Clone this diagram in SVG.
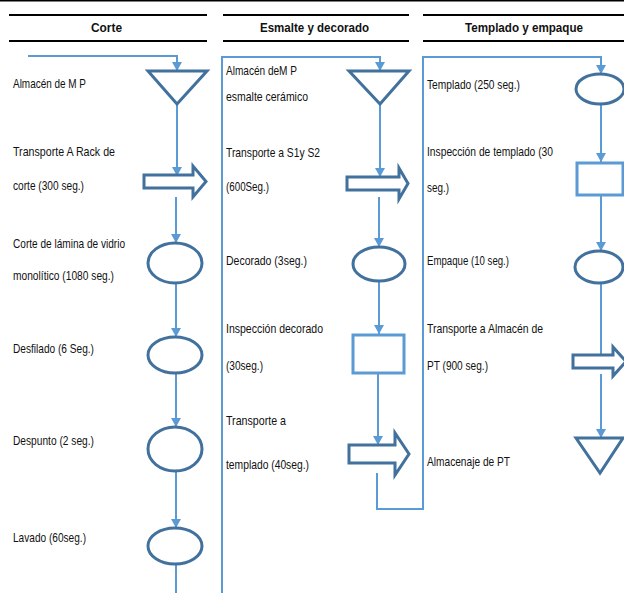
<svg xmlns="http://www.w3.org/2000/svg" width="624" height="593" viewBox="0 0 624 593">
<style>
.hdr{font-family:"Liberation Sans",Arial,sans-serif;font-weight:bold;font-size:13px;fill:#111;}
.lbl{font-family:"Liberation Sans",Arial,sans-serif;font-size:13.5px;fill:#111;}
.rule{stroke:#000;stroke-width:2;fill:none;}
.shape{stroke:#41719C;stroke-width:3;fill:#fff;}
.box{stroke:#5B9BD5;stroke-width:3;fill:#fff;}
.conn{stroke:#5B9BD5;stroke-width:2;fill:none;}
</style>
<defs>
<marker id="ah" markerUnits="userSpaceOnUse" markerWidth="9" markerHeight="10" refX="9" refY="5" orient="auto">
<path d="M0,0 L9,5 L0,10 z" fill="#5B9BD5"/>
</marker>
</defs>
<rect width="624" height="593" fill="#fff"/>
<g id="headers">
<line class="rule" x1="0" y1="0.5" x2="624" y2="0.5" stroke-width="1"/>
<line class="rule" x1="9" y1="15" x2="207" y2="15"/>
<line class="rule" x1="9" y1="41" x2="207" y2="41"/>
<line class="rule" x1="223" y1="15" x2="409" y2="15"/>
<line class="rule" x1="223" y1="41" x2="409" y2="41"/>
<line class="rule" x1="423" y1="15" x2="624" y2="15"/>
<line class="rule" x1="423" y1="41" x2="624" y2="41"/>
<text class="hdr" x="91" y="32" textLength="31" lengthAdjust="spacingAndGlyphs">Corte</text>
<text class="hdr" x="260" y="32" textLength="109" lengthAdjust="spacingAndGlyphs">Esmalte y decorado</text>
<text class="hdr" x="465" y="32" textLength="118" lengthAdjust="spacingAndGlyphs">Templado y empaque</text>
</g>
<g id="connectors">
<path class="conn" d="M28,56 H177 V71" marker-end="url(#ah)" stroke-width="2.5"/>
<path class="conn" d="M177,104 V176" marker-end="url(#ah)"/>
<path class="conn" d="M176,197 V243" marker-end="url(#ah)"/>
<path class="conn" d="M176,283 V337" marker-end="url(#ah)"/>
<path class="conn" d="M176,373 V427" marker-end="url(#ah)"/>
<path class="conn" d="M176,471 V528" marker-end="url(#ah)"/>
<path class="conn" d="M176,564 V593"/>
<path class="conn" d="M222,593 V57 H380 V71" marker-end="url(#ah)" stroke-width="3"/>
<path class="conn" d="M380,104 V177" marker-end="url(#ah)"/>
<path class="conn" d="M379,197 V247" marker-end="url(#ah)"/>
<path class="conn" d="M379,281 V334" marker-end="url(#ah)"/>
<path class="conn" d="M378,373 V445" marker-end="url(#ah)"/>
<path class="conn" d="M377,473 V509 H423 V57 H601 V74" marker-end="url(#ah)" stroke-width="3"/>
<path class="conn" d="M601,105 V162" marker-end="url(#ah)"/>
<path class="conn" d="M601,195 V251" marker-end="url(#ah)"/>
<path class="conn" d="M601,283 V365" marker-end="url(#ah)"/>
<path class="conn" d="M601,374 V438" marker-end="url(#ah)"/>
</g>
<g id="almacen-mp">
<polygon class="shape" points="148,71 207,71 177,104"/>
<text class="lbl" x="13" y="88" textLength="73" lengthAdjust="spacingAndGlyphs">Almacén de M P</text>
</g>
<g id="transporte-rack">
<polygon class="shape" points="144,175 193,175 193,166 206,181.5 193,197 193,188 144,188"/>
<text class="lbl" x="13" y="156" textLength="102" lengthAdjust="spacingAndGlyphs">Transporte A Rack de</text>
<text class="lbl" x="13" y="190" textLength="71" lengthAdjust="spacingAndGlyphs">corte (300 seg.)</text>
</g>
<g id="corte-lamina">
<ellipse class="shape" cx="175" cy="263" rx="27" ry="20"/>
<text class="lbl" x="13" y="248" textLength="112" lengthAdjust="spacingAndGlyphs">Corte de lámina de vidrio</text>
<text class="lbl" x="13" y="280" textLength="101" lengthAdjust="spacingAndGlyphs">monolítico (1080 seg.)</text>
</g>
<g id="desfilado">
<ellipse class="shape" cx="175" cy="355" rx="27" ry="18"/>
<text class="lbl" x="13" y="353" textLength="81" lengthAdjust="spacingAndGlyphs">Desfilado (6 Seg.)</text>
</g>
<g id="despunto">
<ellipse class="shape" cx="175" cy="449" rx="27" ry="22"/>
<text class="lbl" x="13" y="445" textLength="81" lengthAdjust="spacingAndGlyphs">Despunto (2 seg.)</text>
</g>
<g id="lavado">
<ellipse class="shape" cx="175" cy="546" rx="27" ry="18"/>
<text class="lbl" x="13" y="542" textLength="73" lengthAdjust="spacingAndGlyphs">Lavado (60seg.)</text>
</g>
<g id="almacen-esmalte">
<polygon class="shape" points="349,71 409,71 380,104"/>
<text class="lbl" x="226" y="75" textLength="71" lengthAdjust="spacingAndGlyphs">Almacén deM P</text>
<text class="lbl" x="226" y="101" textLength="82" lengthAdjust="spacingAndGlyphs">esmalte cerámico</text>
</g>
<g id="transporte-s1s2">
<polygon class="shape" points="347,177 399,177 399,168 408,183.5 399,199 399,190 347,190"/>
<text class="lbl" x="226" y="157" textLength="94" lengthAdjust="spacingAndGlyphs">Transporte a S1y S2</text>
<text class="lbl" x="226" y="191" textLength="43" lengthAdjust="spacingAndGlyphs">(600Seg.)</text>
</g>
<g id="decorado">
<ellipse class="shape" cx="379" cy="264" rx="26" ry="17"/>
<text class="lbl" x="226" y="265" textLength="81" lengthAdjust="spacingAndGlyphs">Decorado (3seg.)</text>
</g>
<g id="inspeccion-decorado">
<rect class="box" x="353" y="335" width="51" height="38"/>
<text class="lbl" x="226" y="333" textLength="97" lengthAdjust="spacingAndGlyphs">Inspección decorado</text>
<text class="lbl" x="226" y="370" textLength="37" lengthAdjust="spacingAndGlyphs">(30seg.)</text>
</g>
<g id="transporte-templado">
<polygon class="shape" points="349,445 395,445 395,433 409,454 395,475 395,463 349,463"/>
<text class="lbl" x="226" y="425" textLength="60" lengthAdjust="spacingAndGlyphs">Transporte a</text>
<text class="lbl" x="226" y="469" textLength="83" lengthAdjust="spacingAndGlyphs">templado (40seg.)</text>
</g>
<g id="templado">
<ellipse class="shape" cx="600" cy="89" rx="24" ry="15"/>
<text class="lbl" x="427" y="89" textLength="93" lengthAdjust="spacingAndGlyphs">Templado (250 seg.)</text>
</g>
<g id="inspeccion-templado">
<rect class="box" x="577" y="163" width="46" height="32"/>
<text class="lbl" x="427" y="156" textLength="126" lengthAdjust="spacingAndGlyphs">Inspección de templado (30</text>
<text class="lbl" x="427" y="192" textLength="22" lengthAdjust="spacingAndGlyphs">seg.)</text>
</g>
<g id="empaque">
<ellipse class="shape" cx="599" cy="267" rx="24" ry="16"/>
<text class="lbl" x="427" y="265" textLength="82" lengthAdjust="spacingAndGlyphs">Empaque (10 seg.)</text>
</g>
<g id="transporte-pt">
<polygon class="shape" points="573,355 613,355 613,347 626,361.5 613,376 613,368 573,368"/>
<text class="lbl" x="427" y="333" textLength="116" lengthAdjust="spacingAndGlyphs">Transporte a Almacén de</text>
<text class="lbl" x="427" y="370" textLength="61" lengthAdjust="spacingAndGlyphs">PT (900 seg.)</text>
</g>
<g id="almacenaje-pt">
<polygon class="shape" points="576,438 623,438 600,473"/>
<text class="lbl" x="427" y="466" textLength="83" lengthAdjust="spacingAndGlyphs">Almacenaje de PT</text>
</g>
</svg>
